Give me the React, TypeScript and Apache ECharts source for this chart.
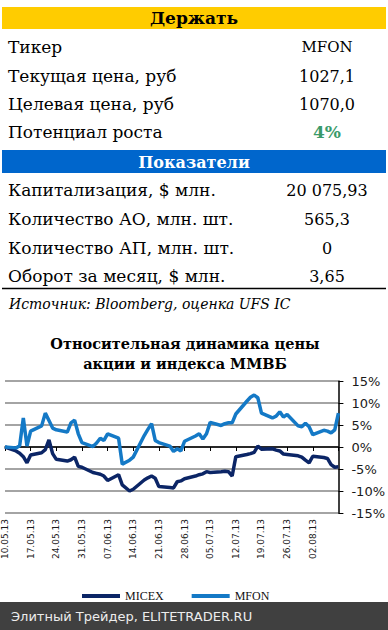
import React, { useEffect, useRef } from "react";
import * as echarts from "echarts";

// ---- table data ----
const headerHold = "Держать";
const tableTop = [
  ["Тикер", "MFON"],
  ["Текущая цена, руб", "1027,1"],
  ["Целевая цена, руб", "1070,0"],
];
const potentialLabel = "Потенциал роста";
const potentialValue = "4%";
const headerIndicators = "Показатели";
const tableBottom = [
  ["Капитализация, $ млн.", "20 075,93"],
  ["Количество АО, млн. шт.", "565,3"],
  ["Количество АП, млн. шт.", "0"],
  ["Оборот за месяц, $ млн.", "3,65"],
];
const sourceText = "Источник: Bloomberg, оценка UFS IC";
const chartTitle = ["Относительная динамика цены", "акции и индекса ММВБ"];
const footerText = "Элитный Трейдер, ELITETRADER.RU";

// ---- chart data ----
const tradeDates = [
  "10.05.13",
  "13.05.13", "14.05.13", "15.05.13", "16.05.13", "17.05.13",
  "20.05.13", "21.05.13", "22.05.13", "23.05.13", "24.05.13",
  "27.05.13", "28.05.13", "29.05.13", "30.05.13", "31.05.13",
  "03.06.13", "04.06.13", "05.06.13", "06.06.13", "07.06.13",
  "10.06.13", "11.06.13", "13.06.13", "14.06.13",
  "17.06.13", "18.06.13", "19.06.13", "20.06.13", "21.06.13",
  "24.06.13", "25.06.13", "26.06.13", "27.06.13", "28.06.13",
  "01.07.13", "02.07.13", "03.07.13", "04.07.13", "05.07.13",
  "08.07.13", "09.07.13", "10.07.13", "11.07.13", "12.07.13",
  "15.07.13", "16.07.13", "17.07.13", "18.07.13", "19.07.13",
  "22.07.13", "23.07.13", "24.07.13", "25.07.13", "26.07.13",
  "29.07.13", "30.07.13", "31.07.13", "01.08.13", "02.08.13",
  "05.08.13", "06.08.13", "07.08.13", "08.08.13", "09.08.13",
];
const micex = [
  0,
  -0.9, -1.4, -2.2, -3.6, -1.8,
  -1.3, -0.6, 1.6, -1.5, -2.8,
  -3.2, -2.9, -2.3, -4.4, -4.6,
  -5.8, -6.0, -6.2, -6.6, -7.6,
  -6.3, -8.6, -10.0, -9.6,
  -7.5, -7.0, -6.6, -7.1, -9.0,
  -9.2, -9.3, -7.9, -7.7, -7.2,
  -6.6, -6.3, -6.1, -5.6, -5.8,
  -5.6, -5.5, -5.6, -6.6, -2.2,
  -1.7, -1.5, -1.2, 0.2, -0.5,
  -0.4, -0.7, -0.9, -1.6, -1.7,
  -2.0, -2.3, -3.0, -3.6, -2.1,
  -2.4, -2.6, -4.0, -4.6, -4.5,
];
const mfon = [
  0,
  -0.2, 0.3, 6.6, 0.2, 3.6,
  4.8, 7.7, 6.0, 4.3, 3.9,
  3.4, 5.5, 6.1, 3.0, 1.0,
  0.1, 0.9, 2.0, 1.5, 3.0,
  2.0, -3.9, -3.0, -2.3,
  2.6, 4.0, 5.3, 1.5, 1.0,
  0.2, -1.0, -0.4, -0.9, 1.3,
  2.5, 3.0, 1.8, 3.0, 5.6,
  4.9, 5.3, 5.5, 5.5, 7.5,
  10.4, 11.3, 11.8, 11.2, 7.7,
  6.6, 7.0, 8.0, 6.8, 7.4,
  4.8, 4.6, 5.4, 4.6, 2.8,
  3.8, 3.6, 3.2, 3.9, 7.7,
];
const yTicks = { min: -15, max: 15, step: 5 };
const seriesNames = ["MICEX", "MFON"];

const C_MICEX = "#0B2566";
const C_MFON = "#1479C6";

function buildCalendar(): string[] {
  const out: string[] = [];
  const start = Date.UTC(2013, 4, 10);
  const end = Date.UTC(2013, 7, 9);
  for (let t = start; t <= end; t += 86400000) {
    const d = new Date(t);
    const dd = String(d.getUTCDate()).padStart(2, "0");
    const mm = String(d.getUTCMonth() + 1).padStart(2, "0");
    const yy = String(d.getUTCFullYear()).slice(2);
    out.push(`${dd}.${mm}.${yy}`);
  }
  return out;
}

export default function App() {
  const ref = useRef<HTMLDivElement>(null);
  useEffect(() => {
    if (!ref.current) return;
    const chart = echarts.init(ref.current, null, { renderer: "svg" });
    const calendar = buildCalendar();
    const toSeries = (vals: number[]) => {
      const m = new Map<string, number>();
      tradeDates.forEach((d, i) => m.set(d, vals[i]));
      return calendar.map((d) => (m.has(d) ? m.get(d)! : null));
    };
    const serif = '"DejaVu Serif"';
    const labelFont = `17px ${serif}`;
    const valueFont = `16px ${serif}`;
    const graphics: any[] = [];
    // yellow header
    graphics.push({ type: "rect", shape: { x: 2, y: 7, width: 384, height: 22 }, style: { fill: "#FFCC00" } });
    graphics.push({ type: "text", x: 194, y: 18, style: { text: headerHold, font: `bold 17px ${serif}`, fill: "#000", textAlign: "center", textVerticalAlign: "middle" } });
    const topRowsY = [47, 76, 104];
    tableTop.forEach((r, i) => {
      graphics.push({ type: "text", x: 8, y: topRowsY[i], style: { text: r[0], font: labelFont, fill: "#000", textAlign: "left", textVerticalAlign: "middle" } });
      graphics.push({ type: "text", x: 327, y: topRowsY[i], style: { text: r[1], font: i === 0 ? `15px ${serif}` : valueFont, fill: "#000", textAlign: "center", textVerticalAlign: "middle" } });
    });
    graphics.push({ type: "text", x: 8, y: 132, style: { text: potentialLabel, font: labelFont, fill: "#000", textAlign: "left", textVerticalAlign: "middle" } });
    graphics.push({ type: "text", x: 327, y: 132, style: { text: potentialValue, font: `bold 17px ${serif}`, fill: "#3A9A6A", textAlign: "center", textVerticalAlign: "middle" } });
    // blue header
    graphics.push({ type: "rect", shape: { x: 2, y: 150, width: 384, height: 23 }, style: { fill: "#0066CC" } });
    graphics.push({ type: "text", x: 194, y: 162, style: { text: headerIndicators, font: `bold 16px ${serif}`, fill: "#fff", textAlign: "center", textVerticalAlign: "middle" } });
    const botRowsY = [190, 219, 248, 276];
    tableBottom.forEach((r, i) => {
      graphics.push({ type: "text", x: 8, y: botRowsY[i], style: { text: r[0], font: labelFont, fill: "#000", textAlign: "left", textVerticalAlign: "middle" } });
      graphics.push({ type: "text", x: 327, y: botRowsY[i], style: { text: r[1], font: valueFont, fill: "#000", textAlign: "center", textVerticalAlign: "middle" } });
    });
    graphics.push({ type: "line", shape: { x1: 2, y1: 288.5, x2: 386, y2: 288.5 }, style: { stroke: "#000", lineWidth: 1.5 } });
    graphics.push({ type: "text", x: 9, y: 304, style: { text: sourceText, font: `italic 14px ${serif}`, fill: "#000", textAlign: "left", textVerticalAlign: "middle" } });
    // chart title
    chartTitle.forEach((t, i) => {
      graphics.push({ type: "text", x: 185, y: 343 + i * 20, style: { text: t, font: `bold 14.5px ${serif}`, fill: "#000", textAlign: "center", textVerticalAlign: "middle" } });
    });
    // footer
    graphics.push({ type: "rect", shape: { x: 0, y: 602, width: 388, height: 28 }, style: { fill: "#404040" } });
    graphics.push({ type: "text", x: 11, y: 616, style: { text: footerText, font: `13px "DejaVu Sans"`, fill: "#EDEDED", textAlign: "left", textVerticalAlign: "middle" } });

    chart.setOption({
      animation: false,
      backgroundColor: "#fff",
      grid: { left: 5, right: 49, top: 381, bottom: 117 },
      legend: {
        data: seriesNames,
        left: 77,
        top: 585,
        icon: "rect",
        itemWidth: 38,
        itemHeight: 4,
        itemGap: 28,
        textStyle: { fontFamily: "Liberation Serif", fontSize: 12, color: "#111" },
      },
      xAxis: {
        type: "category",
        data: calendar,
        boundaryGap: false,
        axisLine: { lineStyle: { color: "#000", width: 1.5 } },
        axisTick: { interval: (i: number) => i % 7 === 0, length: 4, lineStyle: { color: "#000" } },
        axisLabel: {
          interval: (i: number) => i % 7 === 0 && i < calendar.length - 1,
          rotate: 90,
          fontSize: 9,
          fontFamily: "DejaVu Sans",
          color: "#1a1a1a",
          margin: 6,
        },
        splitLine: { show: false },
      },
      yAxis: {
        type: "value",
        position: "right",
        min: yTicks.min,
        max: yTicks.max,
        interval: yTicks.step,
        axisLine: { show: true, lineStyle: { color: "#000", width: 1.5 } },
        axisTick: { show: true, length: 5, lineStyle: { color: "#000" } },
        axisLabel: { formatter: (v: number) => `${v}%`, fontSize: 13, fontFamily: "DejaVu Sans", color: "#1a1a1a", margin: 13 },
        splitLine: { lineStyle: { color: "#868686", width: 1.5 } },
      },
      series: [
        { name: seriesNames[0], type: "line", data: toSeries(micex), connectNulls: true, symbol: "none", color: C_MICEX, lineStyle: { width: 3.5, color: C_MICEX } },
        { name: seriesNames[1], type: "line", data: toSeries(mfon), connectNulls: true, symbol: "none", color: C_MFON, lineStyle: { width: 3.5, color: C_MFON } },
      ],
      graphic: graphics,
    });
    return () => chart.dispose();
  }, []);
  return <div ref={ref} style={{ position: "absolute", left: 0, top: 0, width: 388, height: 630 }} />;
}
